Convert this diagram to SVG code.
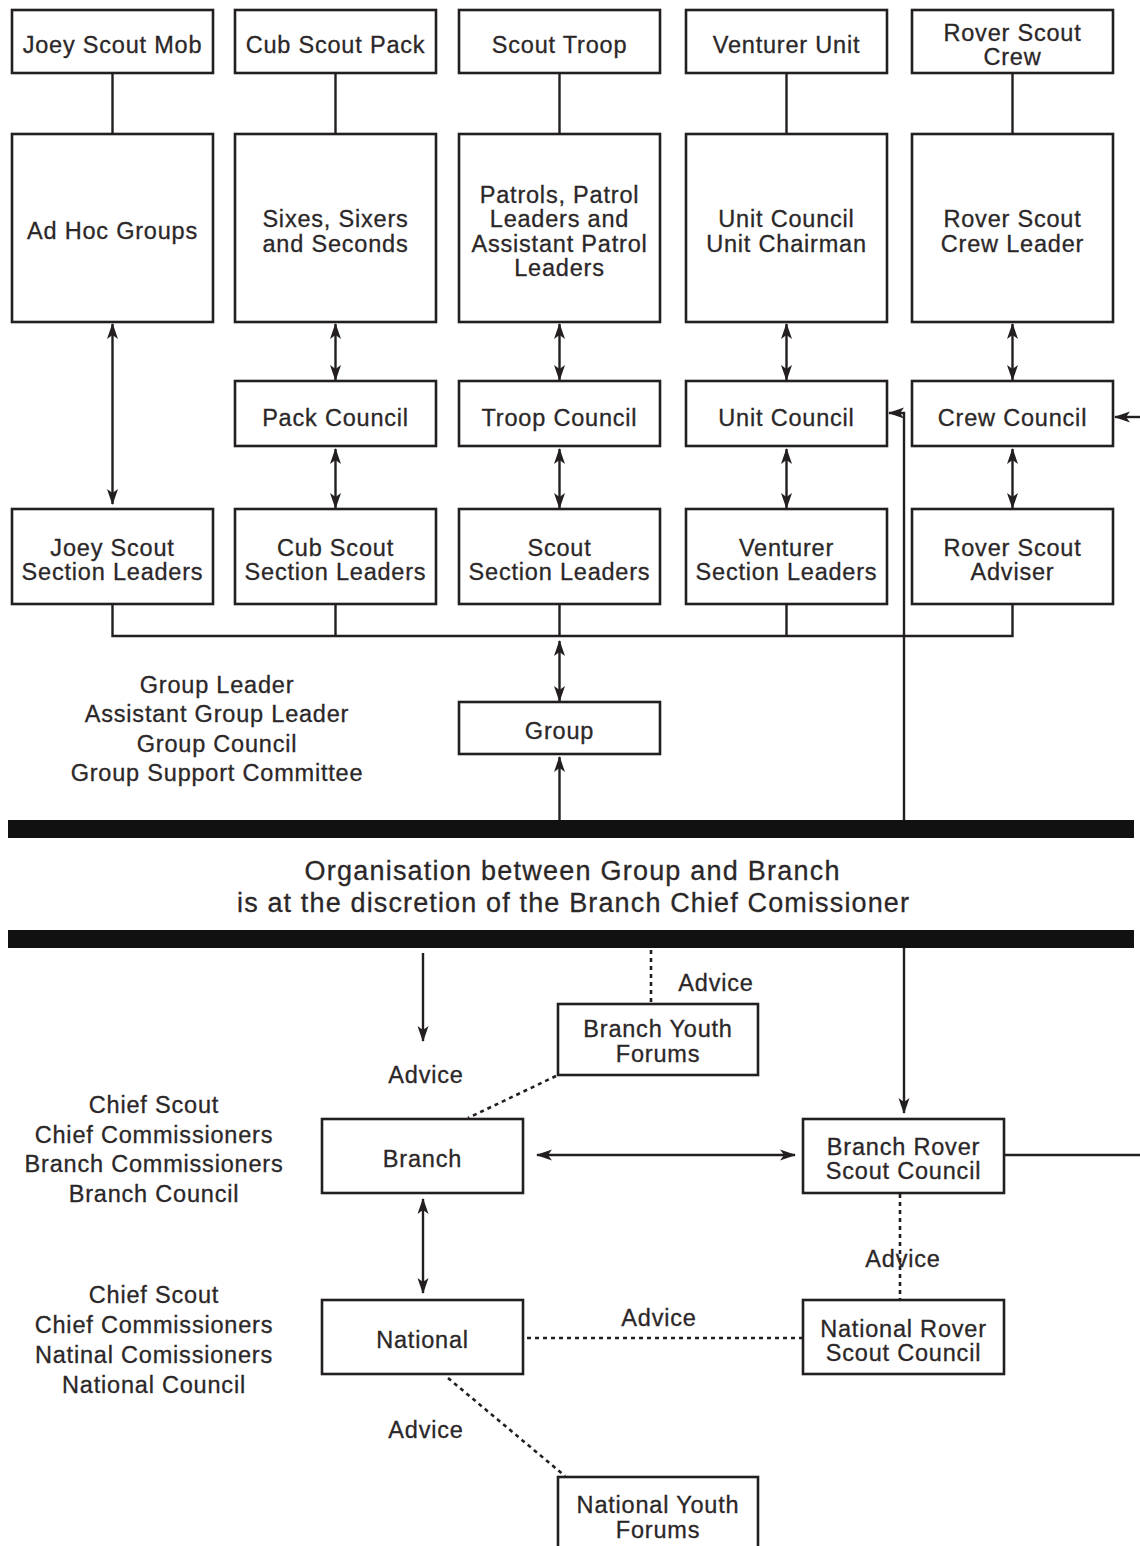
<svg xmlns="http://www.w3.org/2000/svg" width="1140" height="1546" viewBox="0 0 1140 1546">
<style>
.box{fill:#fff;stroke:#231f20;stroke-width:2.6}
.t{font-family:"Liberation Sans",Arial,sans-serif;font-size:23.5px;fill:#2b2728;stroke:#2b2728;stroke-width:0.3;text-anchor:middle;dominant-baseline:central;letter-spacing:0.8px}
.ln{stroke:#231f20;stroke-width:2.4;fill:none}
.dot{stroke:#231f20;stroke-width:2.6;fill:none;stroke-dasharray:4 4}
.bar{fill:#111}
</style>
<defs>
<marker id="ah" viewBox="0 0 16 12" refX="15" refY="6" markerWidth="16" markerHeight="12" markerUnits="userSpaceOnUse" orient="auto-start-reverse">
<path d="M0,0.5 L16,6 L0,11.5 L4,6 Z" fill="#231f20"/>
</marker>
</defs>
<rect width="1140" height="1546" fill="#fff"/>

<g id="bars">
<rect class="bar" x="8" y="820" width="1126" height="18"/>
<rect class="bar" x="8" y="930" width="1126" height="18"/>
<text class="t" x="572" y="871" style="font-size:27px;letter-spacing:0" textLength="535" lengthAdjust="spacing">Organisation between Group and Branch</text>
<text class="t" x="573" y="903" style="font-size:27px;letter-spacing:0" textLength="672" lengthAdjust="spacing">is at the discretion of the Branch Chief Comissioner</text>
</g>

<g id="connectors">
<line class="ln" x1="112.5" y1="73" x2="112.5" y2="134"/>
<line class="ln" x1="335.5" y1="73" x2="335.5" y2="134"/>
<line class="ln" x1="559.5" y1="73" x2="559.5" y2="134"/>
<line class="ln" x1="786.5" y1="73" x2="786.5" y2="134"/>
<line class="ln" x1="1012.5" y1="73" x2="1012.5" y2="134"/>
<line class="ln" x1="112.5" y1="324" x2="112.5" y2="504" marker-start="url(#ah)" marker-end="url(#ah)"/>
<line class="ln" x1="335.5" y1="324" x2="335.5" y2="380" marker-start="url(#ah)" marker-end="url(#ah)"/>
<line class="ln" x1="559.5" y1="324" x2="559.5" y2="380" marker-start="url(#ah)" marker-end="url(#ah)"/>
<line class="ln" x1="786.5" y1="324" x2="786.5" y2="380" marker-start="url(#ah)" marker-end="url(#ah)"/>
<line class="ln" x1="1012.5" y1="324" x2="1012.5" y2="380" marker-start="url(#ah)" marker-end="url(#ah)"/>
<line class="ln" x1="335.5" y1="449" x2="335.5" y2="508" marker-start="url(#ah)" marker-end="url(#ah)"/>
<line class="ln" x1="559.5" y1="449" x2="559.5" y2="508" marker-start="url(#ah)" marker-end="url(#ah)"/>
<line class="ln" x1="786.5" y1="449" x2="786.5" y2="508" marker-start="url(#ah)" marker-end="url(#ah)"/>
<line class="ln" x1="1012.5" y1="449" x2="1012.5" y2="508" marker-start="url(#ah)" marker-end="url(#ah)"/>
<path class="ln" d="M112.5,604 V636 H1012.5 V604 M335.5,604 V636 M559.5,604 V636 M786.5,604 V636"/>
<line class="ln" x1="559.5" y1="641" x2="559.5" y2="701" marker-start="url(#ah)" marker-end="url(#ah)"/>
<line class="ln" x1="559.5" y1="820" x2="559.5" y2="757" marker-end="url(#ah)"/>
<path class="ln" d="M904,820 V413 H889" marker-end="url(#ah)"/>
<line class="ln" x1="1140" y1="417" x2="1115" y2="417" marker-end="url(#ah)"/>
<line class="ln" x1="423" y1="953" x2="423" y2="1041" marker-end="url(#ah)"/>
<line class="dot" x1="651" y1="950" x2="651" y2="1004"/>
<line class="dot" x1="556" y1="1076" x2="468" y2="1118"/>
<line class="ln" x1="904" y1="948" x2="904" y2="1113" marker-end="url(#ah)"/>
<line class="ln" x1="537" y1="1155" x2="795" y2="1155" marker-start="url(#ah)" marker-end="url(#ah)"/>
<line class="ln" x1="1004" y1="1155" x2="1140" y2="1155"/>
<line class="dot" x1="900" y1="1194" x2="900" y2="1300"/>
<line class="ln" x1="423" y1="1199" x2="423" y2="1293" marker-start="url(#ah)" marker-end="url(#ah)"/>
<line class="dot" x1="527" y1="1338" x2="803" y2="1338"/>
<line class="dot" x1="448" y1="1378" x2="565" y2="1476"/>
</g>

<g id="labels">
<text class="t" x="716" y="983">Advice</text>
<text class="t" x="426" y="1075">Advice</text>
<text class="t" x="903" y="1259">Advice</text>
<text class="t" x="659" y="1318">Advice</text>
<text class="t" x="426" y="1430">Advice</text>
</g>

<g id="n-joey-mob"><rect class="box" x="12" y="10" width="201" height="63"/><text class="t" x="112.5" y="45">Joey Scout Mob</text></g>
<g id="n-cub-pack"><rect class="box" x="235" y="10" width="201" height="63"/><text class="t" x="335.5" y="45">Cub Scout Pack</text></g>
<g id="n-scout-troop"><rect class="box" x="459" y="10" width="201" height="63"/><text class="t" x="559.5" y="45">Scout Troop</text></g>
<g id="n-venturer-unit"><rect class="box" x="686" y="10" width="201" height="63"/><text class="t" x="786.5" y="45">Venturer Unit</text></g>
<g id="n-rover-crew"><rect class="box" x="912" y="10" width="201" height="63"/><text class="t" x="1012.5" y="33">Rover Scout</text><text class="t" x="1012.5" y="57">Crew</text></g>

<g id="n-adhoc"><rect class="box" x="12" y="134" width="201" height="188"/><text class="t" x="112.5" y="231">Ad Hoc Groups</text></g>
<g id="n-sixes"><rect class="box" x="235" y="134" width="201" height="188"/><text class="t" x="335.5" y="219">Sixes, Sixers</text><text class="t" x="335.5" y="244">and Seconds</text></g>
<g id="n-patrols"><rect class="box" x="459" y="134" width="201" height="188"/><text class="t" x="559.5" y="195">Patrols, Patrol</text><text class="t" x="559.5" y="219">Leaders and</text><text class="t" x="559.5" y="244">Assistant Patrol</text><text class="t" x="559.5" y="268">Leaders</text></g>
<g id="n-unit-council-chair"><rect class="box" x="686" y="134" width="201" height="188"/><text class="t" x="786.5" y="219">Unit Council</text><text class="t" x="786.5" y="244">Unit Chairman</text></g>
<g id="n-crew-leader"><rect class="box" x="912" y="134" width="201" height="188"/><text class="t" x="1012.5" y="219">Rover Scout</text><text class="t" x="1012.5" y="244">Crew Leader</text></g>

<g id="n-pack-council"><rect class="box" x="235" y="381" width="201" height="65"/><text class="t" x="335.5" y="418">Pack Council</text></g>
<g id="n-troop-council"><rect class="box" x="459" y="381" width="201" height="65"/><text class="t" x="559.5" y="418">Troop Council</text></g>
<g id="n-unit-council"><rect class="box" x="686" y="381" width="201" height="65"/><text class="t" x="786.5" y="418">Unit Council</text></g>
<g id="n-crew-council"><rect class="box" x="912" y="381" width="201" height="65"/><text class="t" x="1012.5" y="418">Crew Council</text></g>

<g id="n-joey-leaders"><rect class="box" x="12" y="509" width="201" height="95"/><text class="t" x="112.5" y="548">Joey Scout</text><text class="t" x="112.5" y="572">Section Leaders</text></g>
<g id="n-cub-leaders"><rect class="box" x="235" y="509" width="201" height="95"/><text class="t" x="335.5" y="548">Cub Scout</text><text class="t" x="335.5" y="572">Section Leaders</text></g>
<g id="n-scout-leaders"><rect class="box" x="459" y="509" width="201" height="95"/><text class="t" x="559.5" y="548">Scout</text><text class="t" x="559.5" y="572">Section Leaders</text></g>
<g id="n-venturer-leaders"><rect class="box" x="686" y="509" width="201" height="95"/><text class="t" x="786.5" y="548">Venturer</text><text class="t" x="786.5" y="572">Section Leaders</text></g>
<g id="n-rover-adviser"><rect class="box" x="912" y="509" width="201" height="95"/><text class="t" x="1012.5" y="548">Rover Scout</text><text class="t" x="1012.5" y="572">Adviser</text></g>

<g id="n-group"><rect class="box" x="459" y="702" width="201" height="52"/><text class="t" x="559.5" y="731">Group</text></g>
<g id="group-text">
<text class="t" x="217" y="685">Group Leader</text>
<text class="t" x="217" y="714">Assistant Group Leader</text>
<text class="t" x="217" y="744">Group Council</text>
<text class="t" x="217" y="773">Group Support Committee</text>
</g>

<g id="n-branch-youth"><rect class="box" x="558" y="1004" width="200" height="71"/><text class="t" x="658" y="1029">Branch Youth</text><text class="t" x="658" y="1054">Forums</text></g>
<g id="n-branch"><rect class="box" x="322" y="1119" width="201" height="74"/><text class="t" x="422.5" y="1159">Branch</text></g>
<g id="n-branch-rover"><rect class="box" x="803" y="1119" width="201" height="74"/><text class="t" x="903.5" y="1147">Branch Rover</text><text class="t" x="903.5" y="1171">Scout Council</text></g>
<g id="branch-text">
<text class="t" x="154" y="1105">Chief Scout</text>
<text class="t" x="154" y="1135">Chief Commissioners</text>
<text class="t" x="154" y="1164">Branch Commissioners</text>
<text class="t" x="154" y="1194">Branch Council</text>
</g>
<g id="n-national"><rect class="box" x="322" y="1300" width="201" height="74"/><text class="t" x="422.5" y="1340">National</text></g>
<g id="n-national-rover"><rect class="box" x="803" y="1300" width="201" height="74"/><text class="t" x="903.5" y="1329">National Rover</text><text class="t" x="903.5" y="1353">Scout Council</text></g>
<g id="national-text">
<text class="t" x="154" y="1295">Chief Scout</text>
<text class="t" x="154" y="1325">Chief Commissioners</text>
<text class="t" x="154" y="1355">Natinal Comissioners</text>
<text class="t" x="154" y="1385">National Council</text>
</g>
<g id="n-national-youth"><rect class="box" x="558" y="1477" width="200" height="75"/><text class="t" x="658" y="1505">National Youth</text><text class="t" x="658" y="1530">Forums</text></g>
</svg>
